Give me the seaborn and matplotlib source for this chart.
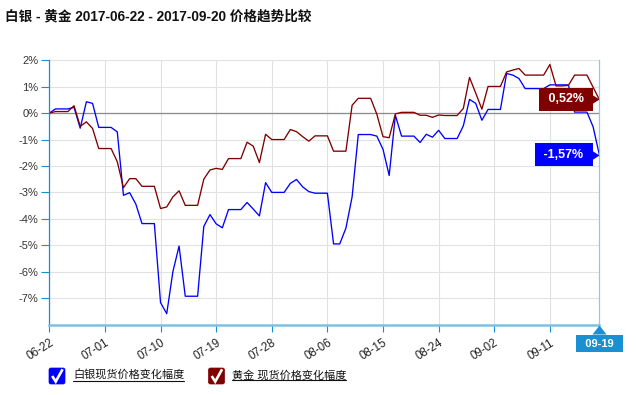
import numpy as np
import pandas as pd
import matplotlib
matplotlib.use("Agg")
import matplotlib.pyplot as plt
import matplotlib.dates as mdates
import matplotlib.transforms as mtransforms
from matplotlib.path import Path
from matplotlib.patches import FancyBboxPatch
from matplotlib.lines import Line2D
import seaborn as sns

# ---------------- data ----------------
title = "白银 - 黄金 2017-06-22 - 2017-09-20 价格趋势比较"
start_date = "2017-06-22"
end_date = "2017-09-19"
silver_name = "白银现货价格变化幅度"
gold_name = "黄金 现货价格变化幅度"

silver = [0.00, 0.16, 0.16, 0.16, 0.22, -0.57, 0.43, 0.37, -0.54, -0.54,
          -0.54, -0.71, -3.11, -3.01, -3.44, -4.18, -4.18, -4.18, -7.17, -7.59,
          -6.00, -5.03, -6.93, -6.93, -6.93, -4.29, -3.84, -4.19, -4.34, -3.65,
          -3.65, -3.65, -3.38, -3.63, -3.89, -2.63, -3.00, -3.00, -3.00, -2.66,
          -2.51, -2.79, -2.97, -3.03, -3.03, -3.03, -4.95, -4.95, -4.35, -3.17,
          -0.81, -0.81, -0.81, -0.87, -1.37, -2.36, -0.08, -0.87, -0.87, -0.87,
          -1.11, -0.80, -0.91, -0.65, -0.96, -0.96, -0.96, -0.48, 0.52, 0.37,
          -0.27, 0.14, 0.14, 0.14, 1.50, 1.44, 1.31, 0.93, 0.93, 0.93,
          0.93, 1.07, 1.07, 1.07, 1.07, 0.04, 0.04, 0.04, -0.52, -1.57]

gold = [0.00, 0.06, 0.06, 0.06, 0.28, -0.50, -0.33, -0.58, -1.34, -1.34,
        -1.34, -1.84, -2.82, -2.48, -2.48, -2.77, -2.77, -2.77, -3.61, -3.55,
        -3.17, -2.94, -3.49, -3.49, -3.49, -2.50, -2.15, -2.09, -2.13, -1.72,
        -1.72, -1.72, -1.10, -1.25, -1.87, -0.80, -1.00, -1.00, -1.00, -0.62,
        -0.70, -0.89, -1.06, -0.86, -0.86, -0.86, -1.44, -1.44, -1.44, 0.30,
        0.56, 0.56, 0.56, -0.04, -0.89, -0.93, -0.03, 0.03, 0.03, 0.03,
        -0.08, -0.08, -0.16, -0.07, -0.09, -0.09, -0.09, 0.18, 1.35, 0.76,
        0.15, 1.01, 1.01, 1.01, 1.56, 1.63, 1.69, 1.44, 1.44, 1.44,
        1.44, 1.84, 1.03, 1.03, 1.05, 1.44, 1.44, 1.44, 0.98, 0.52]

tick_dates = ["2017-06-22", "2017-07-01", "2017-07-10", "2017-07-19", "2017-07-28",
              "2017-08-06", "2017-08-15", "2017-08-24", "2017-09-02", "2017-09-11"]
ytick_vals = [2, 1, 0, -1, -2, -3, -4, -5, -6, -7]
ytick_labels = ["2%", "1%", "0%", "-1%", "-2%", "-3%", "-4%", "-5%", "-6%", "-7%"]
y_limits = (-8, 2)

silver_color = "#0000ff"
gold_color = "#800000"
axis_blue = "#1a8dd0"

# ---------------- build frame ----------------
dates = pd.date_range(start_date, end_date, freq="D")
df = pd.DataFrame({
    "date": list(dates) + list(dates),
    "pct": silver + gold,
    "series": [silver_name] * len(dates) + [gold_name] * len(dates),
})

sns.set_theme(style="white")
plt.rcParams["font.family"] = ["Liberation Sans", "Noto Sans CJK SC", "DejaVu Sans"]
plt.rcParams["axes.unicode_minus"] = False

W, H, DPI = 636, 395, 100
fig = plt.figure(figsize=(W / DPI, H / DPI), dpi=DPI)
left_px, right_px, top_px, bottom_px = 49.3, 599.3, 60.3, 324.5
ax = fig.add_axes([left_px / W, (H - bottom_px) / H,
                   (right_px - left_px) / W, (bottom_px - top_px) / H])

sns.lineplot(data=df, x="date", y="pct", hue="series",
             hue_order=[silver_name, gold_name],
             palette={silver_name: silver_color, gold_name: gold_color},
             estimator=None, legend=False, ax=ax, linewidth=0.95)

ax.set_xlim(dates[0], dates[-1])
ax.set_ylim(*y_limits)
ax.set_xlabel("")
ax.set_ylabel("")

# grid
ax.set_yticks(ytick_vals)
ax.set_yticklabels(ytick_labels)
ax.set_xticks(pd.to_datetime(tick_dates))
ax.xaxis.set_major_formatter(mdates.DateFormatter("%m-%d"))
ax.grid(True, color="#e2e2e2", linewidth=0.8)
ax.set_axisbelow(True)
ax.axhline(0, color="#8a8a8a", linewidth=0.9, zorder=1.5)

# spines
ax.spines["top"].set_visible(False)
ax.spines["left"].set_color(axis_blue)
ax.spines["left"].set_linewidth(0.9)
ax.spines["bottom"].set_color("#7cc0e4")
ax.spines["bottom"].set_linewidth(1.8)
ax.spines["right"].set_color("#8ccae8")
ax.spines["right"].set_linewidth(0.9)

ax.tick_params(axis="y", which="major", direction="out", length=6, width=0.8,
               color=axis_blue, pad=2, labelsize=8, labelcolor="#333333", left=True)
ax.tick_params(axis="x", which="major", direction="out", length=5, width=0.8,
               color=axis_blue, pad=4, labelsize=8.3, labelcolor="#222222", bottom=True)
for t in ax.get_xticklabels():
    t.set_rotation(32)
    t.set_ha("right")
    t.set_va("top")
    t.set_rotation_mode("anchor")

# ---------------- end-value labels ----------------
def right_tri_marker():
    return Path([(0, 0), (-1, 0.64), (-1, -0.64), (0, 0)],
                [Path.MOVETO, Path.LINETO, Path.LINETO, Path.CLOSEPOLY])

px2pt = 72.0 / DPI
last_x = mdates.date2num(dates[-1])
for vals, col in [(gold, gold_color), (silver, silver_color)]:
    last = vals[-1]
    label = (" %.2f%% " % last).replace(".", ",")
    ax.plot([last_x], [last], marker=right_tri_marker(), markersize=10.1,
            color=col, markeredgewidth=0, linestyle="none", clip_on=False, zorder=6)
    pad = 0.45
    ax.annotate(label, xy=(last_x, last), xycoords="data",
                xytext=(-(6.6 + pad * 9 / px2pt) * px2pt, 0), textcoords="offset points",
                ha="right", va="center", fontsize=9, fontweight="bold", color="white",
                bbox=dict(boxstyle="square,pad=%.2f" % pad, fc=col, ec="none"),
                zorder=7, annotation_clip=False)

# ---------------- last date box on x axis ----------------
blend = mtransforms.blended_transform_factory(ax.transData, ax.transAxes)
up_tri = Path([(0, 0), (-0.78, -1), (0.78, -1), (0, 0)],
              [Path.MOVETO, Path.LINETO, Path.LINETO, Path.CLOSEPOLY])
ax.plot([last_x], [0], marker=up_tri, markersize=13, color="#1a8fd2",
        markeredgewidth=0, linestyle="none",
        transform=mtransforms.offset_copy(blend, fig, x=0, y=-0.5, units="dots"),
        clip_on=False, zorder=6)
ax.annotate("  " + dates[-1].strftime("%m-%d") + "  ", xy=(last_x, 0),
            xycoords=blend, xytext=(0, -19.2 * px2pt), textcoords="offset points",
            ha="center", va="center", fontsize=8, fontweight="bold", color="white",
            bbox=dict(boxstyle="square,pad=0.3", fc="#1a8fd2", ec="none"),
            annotation_clip=False, zorder=7)

# ---------------- title ----------------
fig.text(5 / W, 1 - 16 / H, title, fontsize=9.8, fontweight="bold", color="#111111",
         ha="left", va="center")

# ---------------- legend (checkboxes) ----------------
def checkbox(x_px, y_top_px, size_px, color):
    inch = 1.0 / DPI
    x0 = x_px * inch
    y0 = (H - y_top_px - size_px) * inch
    s = size_px * inch
    box = FancyBboxPatch((x0, y0), s, s, boxstyle="round,pad=0,rounding_size=0.02",
                         transform=fig.dpi_scale_trans, fc=color, ec=color, lw=0.5)
    fig.patches.append(box)
    fx = [x0 + 0.2 * s, x0 + 0.42 * s, x0 + 0.85 * s]
    fy = [y0 + 0.5 * s, y0 + 0.15 * s, y0 + 0.92 * s]
    fig.lines.append(Line2D(fx, fy, transform=fig.dpi_scale_trans, color="white",
                            lw=1.9, solid_capstyle="butt", solid_joinstyle="miter"))

legend_items = [(49, silver_color, silver_name, 73), (208.5, gold_color, gold_name, 232)]
texts = []
for bx, col, name, tx in legend_items:
    checkbox(bx, 368, 16, col)
    t = fig.text(tx / W, 1 - 375.5 / H, name, fontsize=8, color="#111111",
                 ha="left", va="center")
    texts.append(t)

fig.canvas.draw()
renderer = fig.canvas.get_renderer()
for t in texts:
    bb = t.get_window_extent(renderer)
    yline = bb.y0 + 0.5
    fig.lines.append(Line2D([bb.x0 / W, bb.x1 / W], [yline / H, yline / H],
                            transform=fig.transFigure, color="#111111", lw=0.8))

fig.savefig("out.png", dpi=DPI)
